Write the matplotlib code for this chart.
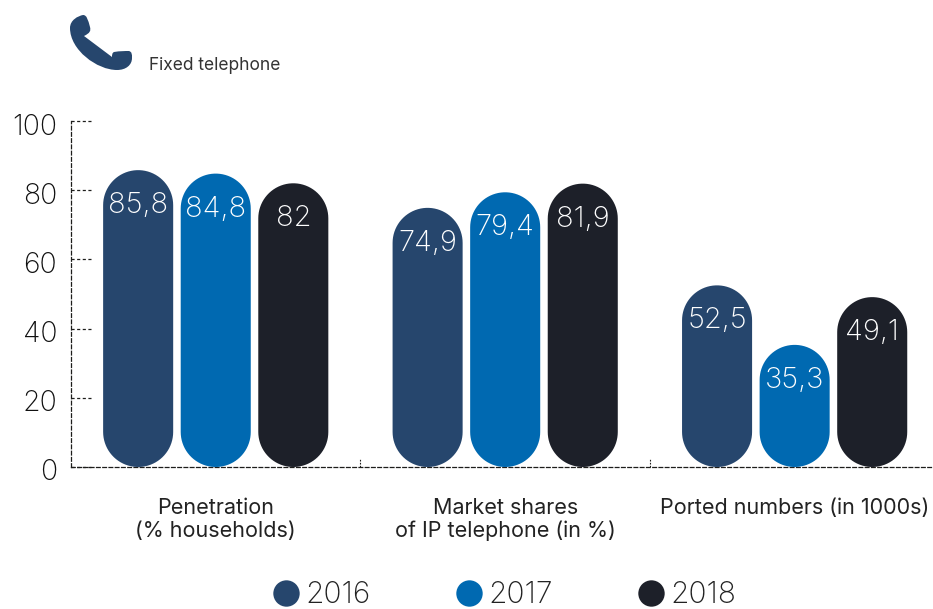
import numpy as np
import matplotlib
matplotlib.use('Agg')
import matplotlib.pyplot as plt
from matplotlib.path import Path
from matplotlib.patches import PathPatch
from matplotlib.lines import Line2D
from matplotlib.transforms import ScaledTranslation

categories = ['Penetration\n(% households)', 'Market shares\nof IP telephone (in %)', 'Ported numbers (in 1000s)']
years = ['2016', '2017', '2018']
values_2016 = [85.8, 74.9, 52.5]
values_2017 = [84.8, 79.4, 35.3]
values_2018 = [82, 81.9, 49.1]
yticks = [0, 20, 40, 60, 80, 100]
colors = ['#26466d', '#0069b1', '#1d2029']
dark = '#1d1d1b'

W, H = 933, 609
plt.rcParams['font.family'] = ['Inter', 'DejaVu Sans']

fig = plt.figure(figsize=(W/100, H/100), dpi=100)
ax = fig.add_axes([71/W, (H-467)/H, (W-71)/W, 346/H])
ax.set_xlim(-0.5, 2.478)
ax.set_ylim(0, 100)


def pill(ax, xc, top, width, color):
    ''' Bar with fully rounded ends; corners stay circular in pixels '''
    rx = width/2
    ry = rx*289.5*100/346
    t = np.linspace(0, np.pi, 40)
    xs = np.r_[xc+rx*np.cos(t), xc-rx*np.cos(t)]
    ys = np.r_[top-ry+ry*np.sin(t), ry-ry*np.sin(t)]
    ax.fill(xs, ys, color=color, lw=0, zorder=3, clip_on=False)


offset = 0.268
bar_w = 0.242
series = [values_2016, values_2017, values_2018]
for i, vals in enumerate(series):
    for j, v in enumerate(vals):
        x = j+(i-1)*offset
        pill(ax, x, v, bar_w, colors[i])
        ax.annotate(f'{v:g}'.replace('.', ','), (x, v), xytext=(0, -25.5), textcoords='offset points',
                    ha='center', va='center', color='white', fontsize=21, fontweight='light', zorder=4)

# dashed axes and ticks
for s in ['top', 'right']:
    ax.spines[s].set_visible(False)
for s in ['left', 'bottom']:
    ax.spines[s].set_linestyle((0, (3, 2)))
    ax.spines[s].set_linewidth(0.9)
    ax.spines[s].set_color(dark)
ax.set_yticks(yticks)
ax.set_xticks(range(len(categories)))
ax.set_xticklabels(categories, fontsize=15.5, color='#222222', linespacing=1.2)
ax.tick_params(axis='x', length=0, pad=22)
ax.tick_params(axis='y', length=0, pad=10, labelsize=20.5, labelcolor='#111111')
shift = ScaledTranslation(0, -3/100, fig.dpi_scale_trans)
for t in ax.get_yticklabels():
    t.set_fontweight('light')
    t.set_transform(t.get_transform()+shift)
for y in yticks:
    ax.plot([0, 21/862], [y, y], transform=ax.get_yaxis_transform(), color=dark, lw=0.9,
            ls=(0, (2.5, 2)), clip_on=False, zorder=1)
for x in [0.5, 1.5]:
    ax.plot([x, x], [0, 2.6], color=dark, lw=0.8, ls=(0, (1.5, 1.2)), zorder=1)

# phone icon, figure pixels
verts = [(70, 28),
         (70, 20), (78, 16), (83, 15),
         (87, 15), (88, 20), (90, 27),
         (91, 31), (90, 33), (84, 36),
         (112, 57),
         (112, 55), (112, 53), (114, 52),
         (120, 51), (125, 51), (129, 51),
         (132, 52), (132, 54), (132, 58),
         (132, 65), (126, 70), (117, 70),
         (97, 70), (70, 50), (70, 28)]
codes = [Path.MOVETO] + [Path.CURVE4]*9 + [Path.LINETO] + [Path.CURVE4]*15
verts = [(a/W, 1-b/H) for a, b in verts]
fig.add_artist(PathPatch(Path(verts, codes), facecolor=colors[0], edgecolor='none', transform=fig.transFigure))
fig.text(149/W, 1-65/H, 'Fixed telephone', fontsize=12.5, color='#333333', va='center')

# legend
handles = [Line2D([], [], ls='none', marker='o', ms=19, color=c, mew=0) for c in colors]
fig.legend(handles, years, loc='center', bbox_to_anchor=(503/W, 1-595/H), ncol=3, frameon=False,
           columnspacing=2.75, handletextpad=0.1, labelcolor='#222222', borderpad=0, handlelength=1.1,
           prop={'size': 21.5, 'weight': 'light'})

fig.savefig('out.png', dpi=100)
